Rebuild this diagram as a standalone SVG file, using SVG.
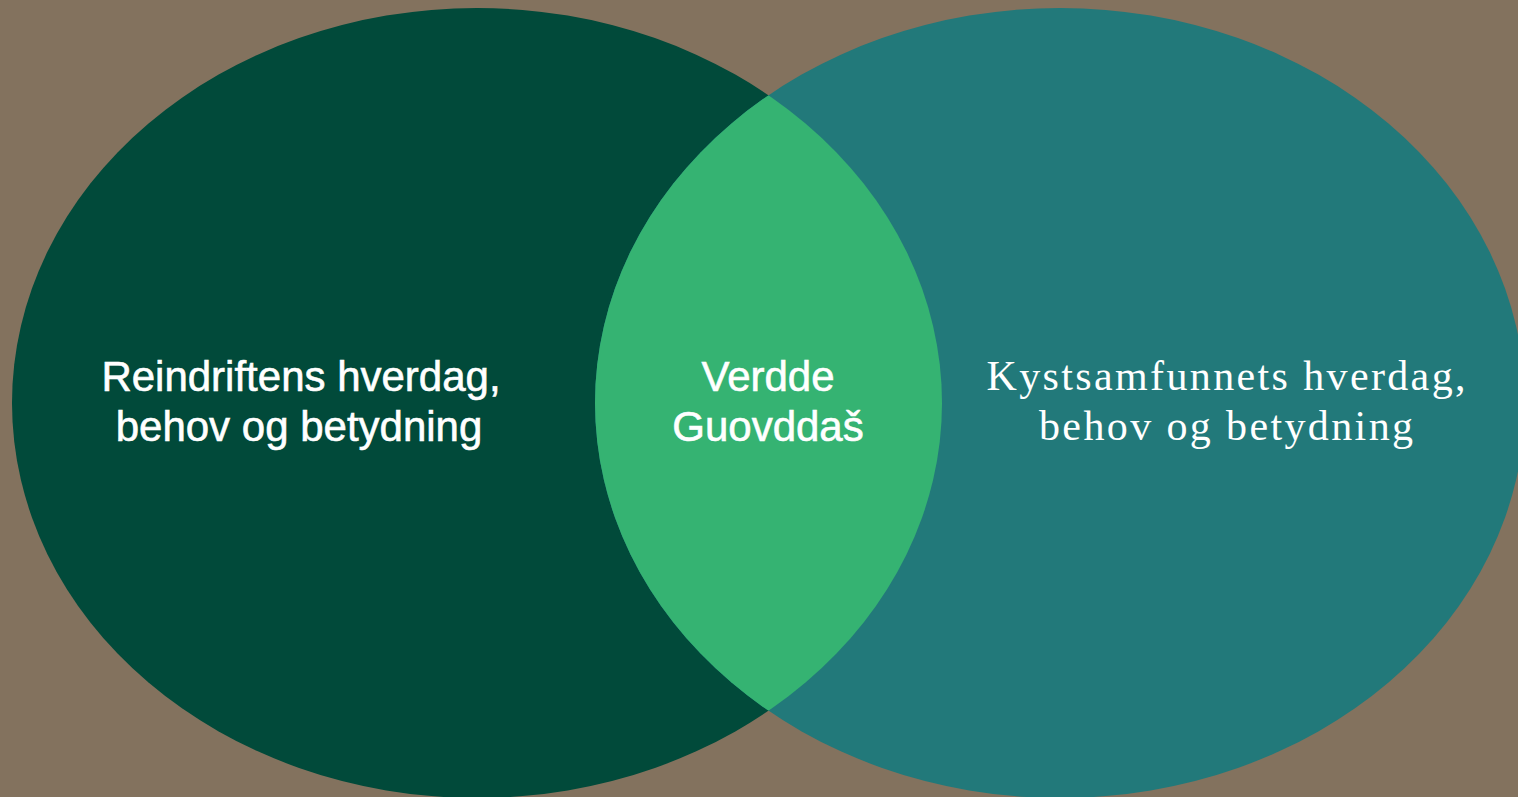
<svg xmlns="http://www.w3.org/2000/svg" width="1518" height="797" viewBox="0 0 1518 797">
  <defs>
    <clipPath id="clipLeft">
      <ellipse cx="477" cy="403" rx="465" ry="395"/>
    </clipPath>
    <style>
      .sans { font-family: "Liberation Sans", Arial, sans-serif; font-size: 42px; fill: #ffffff; stroke: #ffffff; stroke-width: 0.6px; text-anchor: middle; }
      .serif { font-family: "Liberation Serif", "Times New Roman", serif; font-size: 42px; fill: #ffffff; text-anchor: middle; }
    </style>
  </defs>
  <rect x="0" y="0" width="1518" height="797" fill="#83725E"/>
  <g id="node-reindrift">
    <ellipse cx="477" cy="403" rx="465" ry="395" fill="#014A3A"/>
    <text class="sans" x="301" y="391">Reindriftens hverdag,</text>
    <text class="sans" x="299" y="441">behov og betydning</text>
  </g>
  <g id="node-kystsamfunn">
    <ellipse cx="1060" cy="403" rx="465" ry="395" fill="#22797A"/>
    <text class="serif" x="1226" y="390" textLength="479" lengthAdjust="spacing">Kystsamfunnets hverdag,</text>
    <text class="serif" x="1226" y="440" textLength="374" lengthAdjust="spacing">behov og betydning</text>
  </g>
  <g id="node-verdde">
    <ellipse cx="1060" cy="403" rx="465" ry="395" fill="#35B372" clip-path="url(#clipLeft)"/>
    <text class="sans" x="768" y="391">Verdde</text>
    <text class="sans" x="768" y="441">Guovddaš</text>
  </g>
</svg>
